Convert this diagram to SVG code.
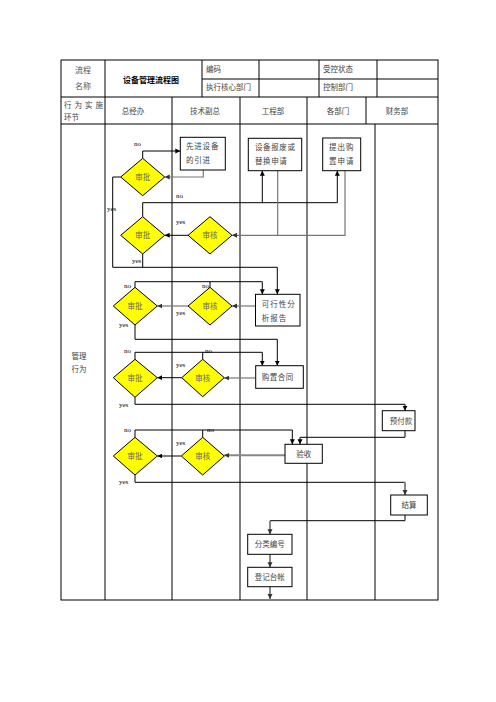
<svg xmlns="http://www.w3.org/2000/svg" width="496" height="702" viewBox="0 0 496 702">
<style>
.tb{stroke:#000;stroke-width:1;fill:none}
.t{font-family:"Noto Sans CJK SC","Noto Sans",sans-serif;font-size:7.5px;fill:#444}
.th{font-family:"Noto Sans CJK SC","Noto Sans",sans-serif;font-size:8px;fill:#555}
.tt{font-family:"Noto Sans CJK SC","Noto Sans",sans-serif;font-size:8px;font-weight:bold;fill:#000}
.box{fill:#fff;stroke:#000;stroke-width:1}
.dia{fill:#ffff00;stroke:#000;stroke-width:1}
.dt{font-family:"Noto Sans CJK SC","Noto Sans",sans-serif;font-size:7.5px;fill:#666;text-anchor:middle}
.lb{font-family:"Liberation Serif",serif;font-size:7px;fill:#000}
.c{fill:none;stroke:#000;stroke-width:1}
.g{fill:none;stroke:#777;stroke-width:1.2}
.gt{fill:none;stroke:#888;stroke-width:2}
.ca{marker-end:url(#ah)}
.cg{marker-end:url(#ahg)}
</style>
<defs>
<marker id="ah" markerUnits="userSpaceOnUse" markerWidth="6" markerHeight="6" refX="5" refY="3" orient="auto"><path d="M0,0.5 L5,3 L0,5.5 Z" fill="#000"/></marker>
<marker id="ahg" markerUnits="userSpaceOnUse" markerWidth="6" markerHeight="6" refX="5" refY="3" orient="auto"><path d="M0,0.5 L5,3 L0,5.5 Z" fill="#333"/></marker>
</defs>
<rect width="496" height="702" fill="#fff"/>
<g id="table">
<rect class="tb" x="61" y="60" width="377" height="540"/>
<line class="tb" x1="61" y1="97" x2="438" y2="97"/>
<line class="tb" x1="61" y1="124" x2="438" y2="124"/>
<line class="tb" x1="202" y1="79" x2="438" y2="79"/>
<line class="tb" x1="105" y1="60" x2="105" y2="600"/>
<line class="tb" x1="202" y1="60" x2="202" y2="97"/>
<line class="tb" x1="259" y1="60" x2="259" y2="97"/>
<line class="tb" x1="319" y1="60" x2="319" y2="97"/>
<line class="tb" x1="377" y1="60" x2="377" y2="97"/>
<line class="tb" x1="172" y1="97" x2="172" y2="600"/>
<line class="tb" x1="240" y1="97" x2="240" y2="600"/>
<line class="tb" x1="307" y1="97" x2="307" y2="600"/>
<line class="tb" x1="366" y1="97" x2="366" y2="124"/>
<line class="tb" x1="375" y1="124" x2="375" y2="600"/>
<text class="th" x="83" y="73" text-anchor="middle" font-size="9px">流程</text>
<text class="th" x="83" y="89" text-anchor="middle" font-size="9px">名称</text>
<text class="tt" x="151" y="83" text-anchor="middle">设备管理流程图</text>
<text class="t" x="206" y="72">编码</text>
<text class="t" x="206" y="90">执行核心部门</text>
<text class="t" x="323" y="72">受控状态</text>
<text class="t" x="323" y="90">控制部门</text>
<text class="t" x="64" y="108" letter-spacing="3">行为实施</text>
<text class="t" x="64" y="120">环节</text>
<text class="t" x="133" y="114" text-anchor="middle">总经办</text>
<text class="t" x="205" y="114" text-anchor="middle">技术副总</text>
<text class="t" x="273" y="114" text-anchor="middle">工程部</text>
<text class="t" x="338" y="114" text-anchor="middle">各部门</text>
<text class="t" x="397" y="114" text-anchor="middle">财务部</text>
<text class="t" x="79" y="359" text-anchor="middle">管理</text>
<text class="t" x="79" y="372" text-anchor="middle">行为</text>
</g>
<g id="connectors">
<path class="c ca" d="M142.7,158.3 V151 H180.3"/>
<path class="g cg" d="M203.3,170 V177 H164.7"/>
<path class="c ca" d="M120.7,177 H112.7 V267.3 H277.3 V294.3"/>
<path class="c ca" d="M142.7,216.7 V202.7 H337.3 V170.7"/>
<path class="c ca" d="M262.3,202.7 V170.7"/>
<path class="g" d="M277.7,170.7 V235.3"/>
<path class="g cg" d="M345,170.7 V235.3 H232"/>
<path class="c ca" d="M188,235.3 H164.7"/>
<path class="c" d="M142.7,254 V267.3"/>
<path class="c ca" d="M135,287.3 V281.7 H262.3 V294.3"/>
<path class="c" d="M210,287.3 V281.7"/>
<path class="g cg" d="M255.5,306 H232"/>
<path class="g cg" d="M188,306 H157.3"/>
<path class="c ca" d="M135,325 V339.3 H277.3 V365.7"/>
<path class="c ca" d="M135,359.3 V352.3 H262.3 V365.7"/>
<path class="c" d="M202.7,359.3 V352.3"/>
<path class="g cg" d="M255.7,378 H224.3"/>
<path class="c ca" d="M181.7,377.7 H157.3"/>
<path class="c ca" d="M135,397.3 V404.3 H405 V410.7"/>
<path class="c ca" d="M405,430.7 V437.3 H300 V444.3"/>
<path class="c ca" d="M135,437.3 V430 H292.3 V444.3"/>
<path class="c" d="M202.7,437.3 V430"/>
<path class="gt cg" d="M285,455.3 H224.3"/>
<path class="c ca" d="M181.3,456 H157.3"/>
<path class="c" d="M135,475 V482.3 H405"/>
<path class="gt cg" d="M405,482.3 V495"/>
<path class="c" d="M405,515 V520.7 H270"/>
<path class="gt cg" d="M270,520.7 V534.3"/>
<path class="gt cg" d="M270,554.3 V567.3"/>
<path class="gt cg" d="M270,586.7 V599"/>
</g>
<g id="labels">
<text class="lb" x="134" y="146">no</text>
<text class="lb" x="107" y="211">yes</text>
<text class="lb" x="176" y="198">no</text>
<text class="lb" x="176" y="224">yes</text>
<text class="lb" x="132" y="263">yes</text>
<text class="lb" x="124" y="288">no</text>
<text class="lb" x="202" y="288">no</text>
<text class="lb" x="176" y="315">yes</text>
<text class="lb" x="119" y="327">yes</text>
<text class="lb" x="124" y="353">no</text>
<text class="lb" x="205" y="353">no</text>
<text class="lb" x="176" y="367">yes</text>
<text class="lb" x="119" y="406.5">yes</text>
<text class="lb" x="124" y="432">no</text>
<text class="lb" x="207" y="432">no</text>
<text class="lb" x="176" y="445">yes</text>
<text class="lb" x="119" y="484">yes</text>
</g>
<g id="n-xianjin"><rect class="box" x="180.3" y="137.3" width="45" height="32.7"/><text class="t" x="186" y="149" letter-spacing="0.8">先进设备</text><text class="t" x="186" y="163" letter-spacing="0.8">的引进</text></g>
<g id="n-baofei"><rect class="box" x="248.3" y="138.3" width="53.4" height="32.4"/><text class="t" x="255" y="150" letter-spacing="0.6">设备报废或</text><text class="t" x="255" y="164" letter-spacing="0.6">替换申请</text></g>
<g id="n-tichu"><rect class="box" x="322.7" y="138" width="38" height="32.7"/><text class="t" x="329" y="150" letter-spacing="1">提出购</text><text class="t" x="329" y="164" letter-spacing="1">置申请</text></g>
<g id="n-sp1"><polygon class="dia" points="142.7,158.3 164.7,177 142.7,195.7 120.7,177"/><text class="dt" x="142.7" y="180">审批</text></g>
<g id="n-sp2"><polygon class="dia" points="142.7,216.7 164.7,235.3 142.7,254 120.7,235.3"/><text class="dt" x="142.7" y="238.3">审批</text></g>
<g id="n-sh2"><polygon class="dia" points="210,216.7 232,235.3 210,254 188,235.3"/><text class="dt" x="210" y="238.3">审核</text></g>
<g id="n-sp3"><polygon class="dia" points="135,287.3 157.3,306 135,325 113.3,306"/><text class="dt" x="135" y="309">审批</text></g>
<g id="n-sh3"><polygon class="dia" points="210,287.3 232,306 210,325 188,306"/><text class="dt" x="210" y="309">审核</text></g>
<g id="n-kexing"><rect class="box" x="255.5" y="294.3" width="44.5" height="31.7"/><text class="t" x="261.7" y="307.3" letter-spacing="1">可行性分</text><text class="t" x="261.7" y="320.7" letter-spacing="1">析报告</text></g>
<g id="n-sp4"><polygon class="dia" points="135,359.3 157.3,377.7 135,397.3 113.3,377.7"/><text class="dt" x="135" y="380.7">审批</text></g>
<g id="n-sh4"><polygon class="dia" points="202.7,359.3 224.3,377.7 202.7,396.7 181.7,377.7"/><text class="dt" x="202.7" y="380.7">审核</text></g>
<g id="n-gouzhi"><rect class="box" x="255.7" y="365.7" width="47.6" height="22.6"/><text class="t" x="261.7" y="379.5" letter-spacing="0.5">购置合同</text></g>
<g id="n-yufu"><rect class="box" x="382.3" y="410.7" width="32.7" height="20"/><text class="t" x="401" y="423.5" text-anchor="middle">预付款</text></g>
<g id="n-sp5"><polygon class="dia" points="135,437.3 157.3,456 135,475 113.3,456"/><text class="dt" x="135" y="459">审批</text></g>
<g id="n-sh5"><polygon class="dia" points="202.7,437.3 224.3,456 202.7,475 181.3,456"/><text class="dt" x="202.7" y="459">审核</text></g>
<g id="n-yanshou"><rect class="box" x="285" y="444.3" width="37.3" height="19"/><text class="t" x="303.7" y="456.5" text-anchor="middle">验收</text></g>
<g id="n-jiesuan"><rect class="box" x="390.7" y="495" width="36.6" height="20"/><text class="t" x="409" y="507.8" text-anchor="middle">结算</text></g>
<g id="n-fenlei"><rect class="box" x="247.7" y="534.3" width="44.3" height="20"/><text class="t" x="269.8" y="547" text-anchor="middle">分类编号</text></g>
<g id="n-dengji"><rect class="box" x="247.7" y="567.3" width="44.3" height="19.4"/><text class="t" x="269.8" y="579.8" text-anchor="middle">登记台帐</text></g>
</svg>
